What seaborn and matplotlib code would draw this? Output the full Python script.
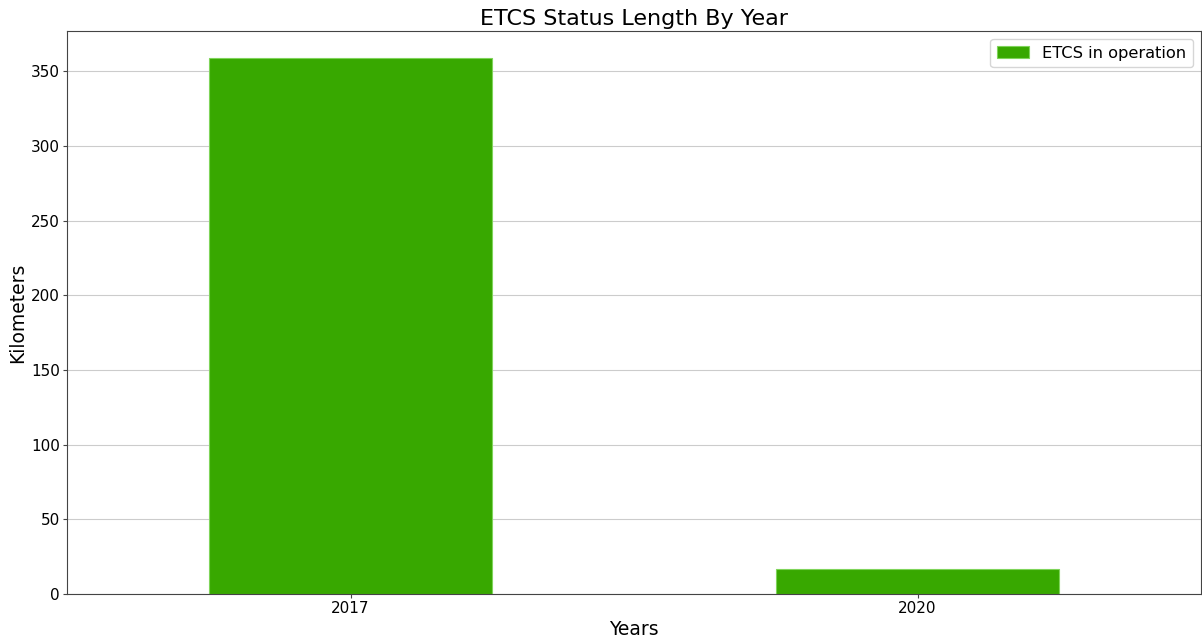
import pandas as pd
import seaborn as sns
import matplotlib.pyplot as plt

# datos
years = ['2017', '2020']
km_operation = [359, 17]
serie = 'ETCS in operation'

datos = pd.DataFrame({'Years': years, 'Kilometers': km_operation, 'Status': serie})

sns.set_style('whitegrid', {'axes.edgecolor': '#444444', 'grid.color': '#cccccc',
                            'xtick.bottom': True, 'ytick.left': True,
                            'text.color': 'black', 'axes.labelcolor': 'black',
                            'xtick.color': 'black', 'ytick.color': 'black'})
plt.rcParams['font.family'] = ['DejaVu Sans']

fig = plt.figure(figsize=(12.02, 6.41), dpi=100)
ax = fig.add_axes([67 / 1202, 1 - 594 / 641, 1134 / 1202, 563 / 641])

sns.barplot(data=datos, x='Years', y='Kilometers', hue='Status', palette=['#38a800'],
            saturation=1, width=0.5, ax=ax, edgecolor='#7fd45a', linewidth=0.8)

ax.grid(axis='x', visible=False)
ax.set_xlim(-0.5, 1.5)
ax.set_ylim(0, 377)
ax.tick_params(labelsize=11, length=3, pad=2)
ax.tick_params(colors='#444444', labelcolor='black')
ax.set_xlabel('Years', fontsize=13.5, labelpad=3)
ax.set_ylabel('Kilometers', fontsize=13.5, labelpad=3)
ax.set_title('ETCS Status Length By Year', fontsize=16, pad=4)
ax.legend(loc='upper right', fontsize=11.7, title=None)

plt.savefig('out.png')
plt.close()
